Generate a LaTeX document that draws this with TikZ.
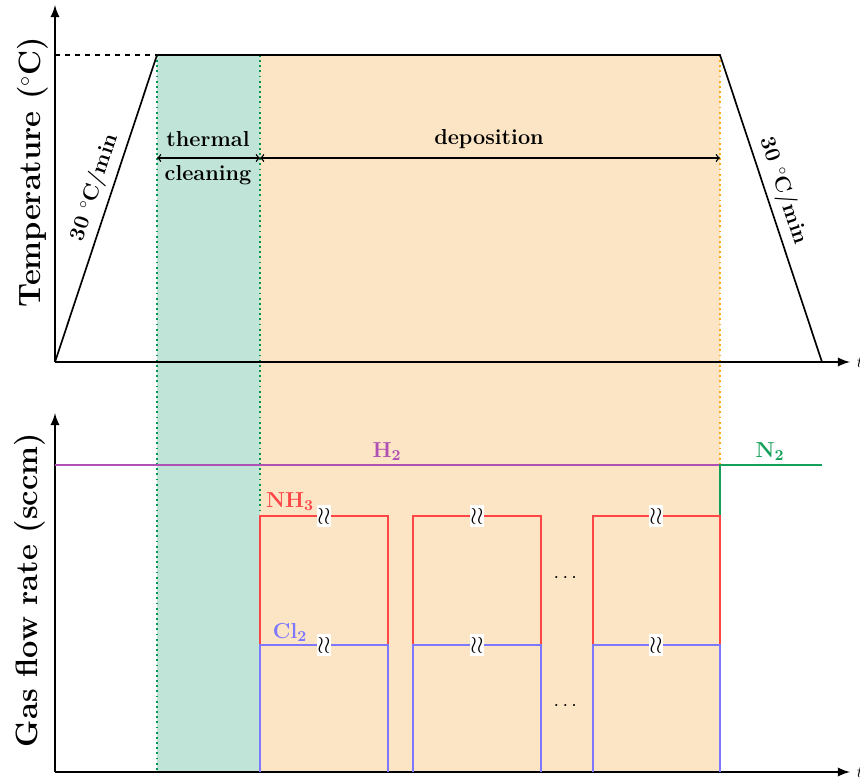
\documentclass[tikz,border=0pt]{standalone}
\usepackage{amsmath, amssymb}

\definecolor{cleanfill}{RGB}{192,228,215}
\definecolor{depofill}{RGB}{252,229,197}
\definecolor{cleanline}{RGB}{0,150,80}
\definecolor{depoline}{RGB}{255,170,20}
\definecolor{nhred}{RGB}{255,70,70}
\definecolor{clblue}{RGB}{125,120,255}
\definecolor{hpurple}{RGB}{175,80,180}
\definecolor{ngreen}{RGB}{20,160,90}

\begin{document}
\begin{tikzpicture}[x=0.6pt,y=-0.6pt]
    % Growth recipe: temperature profile (top) and gas flows (bottom).
    % Coordinates are given in pixels of the original drawing.

    \tikzset{
      axes/.style={-latex, line width=1.5pt},
      ramp/.style={line width=1pt},
      span/.style={<->, thick},
      label/.style={font=\fontsize{13}{15}\selectfont\bfseries, align=center},
      axislabel/.style={font=\fontsize{18.5}{22}\selectfont\bfseries, rotate=90},
      gas/.style={line width=1pt},
      phase/.style={dotted, line width=1.1pt},
      brk/.style={fill=white, inner sep=0.3pt, font=\Large}
    }
    \useasboundingbox (0,0) rectangle (860,778);

    % --- Phases: thermal cleaning and deposition
    \fill[cleanfill] (157,55) rectangle (260,772);
    \fill[depofill] (260,55) rectangle (720,772);
    \draw[cleanline, phase] (157,55) -- (157,772);
    \draw[cleanline, phase] (260,55) -- (260,772);
    \draw[depoline, phase] (720,55) -- (720,772);

    % --- Temperature panel
    \coordinate (t0) at (55,362);
    \coordinate (t1) at (157,55);
    \coordinate (t2) at (720,55);
    \coordinate (t3) at (822,362);
    \coordinate (ty) at (55,55);
    \draw[axes] (t0) -- (55,5);
    \draw[axes] (t0) -- (850,362) node[right] (tx) {$t$};
    \draw[dashed, thick] (ty) -- (t1);
    \draw[ramp] (t0) -- node[label, sloped, above, pos=0.55] (up) {30 $^\circ$C/min} (t1)
      -- (t2) -- node[label, sloped, above, pos=0.46] (down) {30 $^\circ$C/min} (t3);
    \node[axislabel] (tlab) at (33,172) {Temperature ($^\circ$C)};

    \coordinate (c0) at (157,158);
    \coordinate (c1) at (260,158);
    \coordinate (c2) at (720,158);
    \draw[span] (c0) -- (c1);
    \draw[span] (c1) -- (c2);
    \node[label] (therm) at (208,139) {thermal};
    \node[label] (clean) at (208,175) {cleaning};
    \node[label] (depo) at (489,139) {deposition};

    % --- Gas flow panel
    \coordinate (g0) at (55,772);
    \draw[axes] (g0) -- (55,413);
    \draw[axes] (g0) -- (850,772) node[right] (gx) {$t$};
    \node[axislabel] (glab) at (30,590) {Gas flow rate (sccm)};

    % H2 carrier, then N2 for cooling
    \draw[gas, hpurple] (55,465) -- (720,465);
    \draw[gas, ngreen] (720,516) -- (720,465) -- (822,465);
    \node[label, text=hpurple] (h2) at (387,452) {H\textsubscript{2}};
    \node[label, text=ngreen] (n2) at (770,452) {N\textsubscript{2}};

    % NH3 pulses
    \draw[gas, nhred] (260,772) -- (260,516) -- (388,516) -- (388,772);
    \draw[gas, nhred] (413,772) -- (413,516) -- (541,516) -- (541,772);
    \draw[gas, nhred] (593,772) -- (593,516) -- (720,516) -- (720,772);
    \node[label, text=nhred] (nh3) at (290,502) {NH\textsubscript{3}};

    % Cl2 pulses
    \draw[gas, clblue] (260,772) -- (260,645) -- (388,645) -- (388,772);
    \draw[gas, clblue] (413,772) -- (413,645) -- (541,645) -- (541,772);
    \draw[gas, clblue] (593,772) -- (593,645) -- (720,645) -- (720,772);
    \node[label, text=clblue] (cl2) at (290,632) {Cl\textsubscript{2}};

    % breaks in the pulses
    \node[brk] (b1) at (324,516) {$\wr\wr$};
    \node[brk] (b2) at (477,516) {$\wr\wr$};
    \node[brk] (b3) at (656,516) {$\wr\wr$};
    \node[brk] (b4) at (324,645) {$\wr\wr$};
    \node[brk] (b5) at (477,645) {$\wr\wr$};
    \node[brk] (b6) at (656,645) {$\wr\wr$};

    \node[font=\large] (dots1) at (567,578) {$\cdots$};
    \node[font=\large] (dots2) at (567,706) {$\cdots$};
  \end{tikzpicture}
\end{document}
